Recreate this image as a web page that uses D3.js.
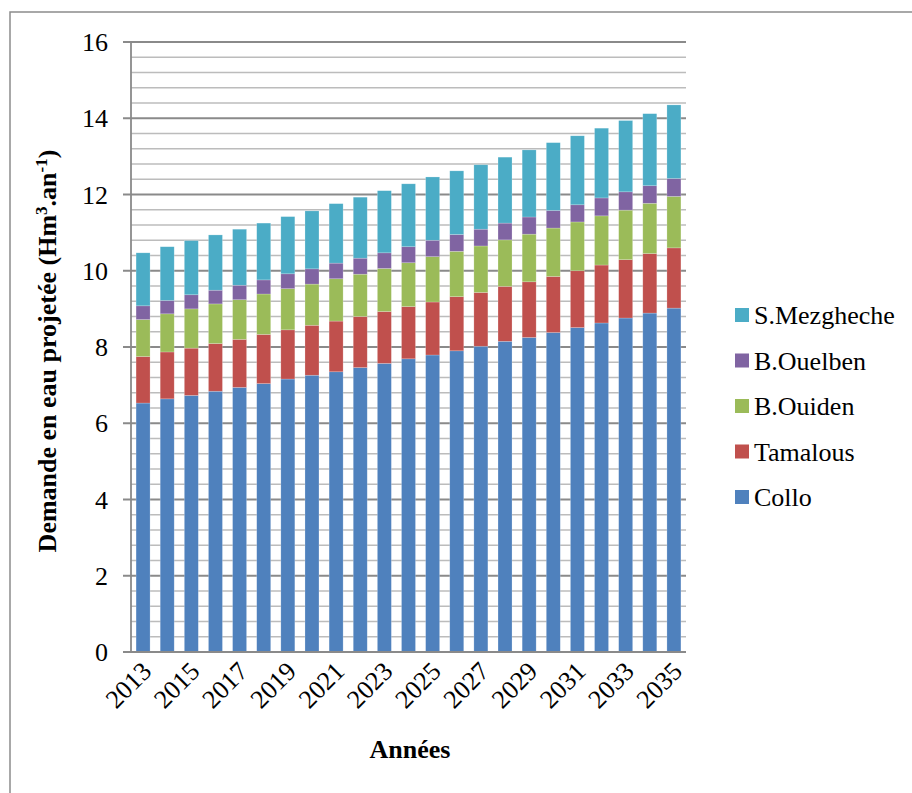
<!DOCTYPE html>
<html><head><meta charset="utf-8">
<script src="https://cdn.jsdelivr.net/npm/d3@7"></script>
<style>body{margin:0;background:#fff}svg{display:block}text{font-family:"Liberation Serif","Tinos","Noto Serif","DejaVu Serif",serif}</style>
</head><body>
<svg id="c" width="912" height="793"></svg>
<script>
const years = d3.range(2013, 2036).map(String);
const collo      = [6.53,6.64,6.73,6.84,6.94,7.04,7.16,7.26,7.35,7.46,7.57,7.69,7.79,7.90,8.02,8.15,8.25,8.38,8.51,8.63,8.76,8.89,9.02];
const tamalous   = [1.22,1.23,1.24,1.25,1.26,1.29,1.29,1.31,1.33,1.34,1.36,1.37,1.39,1.42,1.41,1.44,1.46,1.47,1.49,1.52,1.53,1.56,1.58];
const bOuiden    = [0.97,1.00,1.03,1.04,1.04,1.06,1.08,1.08,1.11,1.11,1.13,1.15,1.19,1.19,1.22,1.22,1.25,1.27,1.28,1.29,1.30,1.32,1.35];
const bOuelben   = [0.36,0.35,0.37,0.36,0.38,0.37,0.39,0.40,0.41,0.42,0.41,0.42,0.43,0.44,0.44,0.44,0.45,0.46,0.45,0.47,0.48,0.46,0.47];
const sMezgheche = [1.39,1.41,1.42,1.45,1.47,1.49,1.50,1.52,1.56,1.60,1.63,1.65,1.66,1.67,1.69,1.73,1.76,1.78,1.81,1.83,1.87,1.89,1.93];
const seriesNames = ["Collo","Tamalous","B.Ouiden","B.Ouelben","S.Mezgheche"];
const seriesColors = ["#4F81BD","#C0504D","#9BBB59","#8064A2","#4BACC6"];
const yTicks = [0,2,4,6,8,10,12,14,16];
const xTickLabels = years.filter((d,i)=>i%2===0);

const table = years.map((y,i)=>({year:y, "Collo":collo[i], "Tamalous":tamalous[i], "B.Ouiden":bOuiden[i], "B.Ouelben":bOuelben[i], "S.Mezgheche":sMezgheche[i]}));
const stack = d3.stack().keys(seriesNames)(table);

const svg = d3.select("#c");
const L = 131, R = 686, T = 42, B = 652;
const x = d3.scaleBand().domain(years).range([L,R]).paddingInner(0.42).paddingOuter(0.21);
const y = d3.scaleLinear().domain([0,16]).range([B,T]);
const color = d3.scaleOrdinal().domain(seriesNames).range(seriesColors);

svg.append("rect").attr("x",10).attr("y",12).attr("width",960).attr("height",900)
  .attr("fill","none").attr("stroke","#8c8c8c").attr("stroke-width",1.5);

const minor = d3.range(0,16.001,0.4).filter(v=>Math.abs(v/2-Math.round(v/2))>1e-6);
svg.append("g").selectAll("line").data(minor).join("line")
  .attr("x1",L).attr("x2",R).attr("y1",d=>y(d)).attr("y2",d=>y(d))
  .attr("stroke","#bcbcbc").attr("stroke-width",1.6);
svg.append("g").selectAll("line").data(yTicks).join("line")
  .attr("x1",L-8).attr("x2",R).attr("y1",d=>y(d)).attr("y2",d=>y(d))
  .attr("stroke","#8a8a8a").attr("stroke-width",1.8);

svg.append("g").selectAll("g").data(stack).join("g").attr("fill",d=>color(d.key))
  .selectAll("rect").data(d=>d).join("rect")
  .attr("x",d=>x(d.data.year)).attr("width",x.bandwidth())
  .attr("y",d=>y(d[1])).attr("height",d=>y(d[0])-y(d[1]))
  .attr("stroke","rgba(255,255,255,0.35)").attr("stroke-width",0.6);

svg.append("line").attr("x1",L).attr("x2",L).attr("y1",T).attr("y2",B)
  .attr("stroke","#8a8a8a").attr("stroke-width",1.8);
svg.append("line").attr("x1",L-8).attr("x2",R).attr("y1",B).attr("y2",B)
  .attr("stroke","#8a8a8a").attr("stroke-width",1.8);

svg.append("g").selectAll("text").data(yTicks).join("text")
  .attr("x",108).attr("y",d=>y(d)).attr("dy","0.35em").attr("text-anchor","end")
  .attr("font-size",26).text(d=>d);

svg.append("g").selectAll("text").data(xTickLabels).join("text")
  .attr("transform",d=>`translate(${x(d)+x.bandwidth()/2-3},${B+8}) rotate(-45)`)
  .attr("text-anchor","end").attr("dy","0.7em")
  .attr("font-size",26).text(d=>d);

const yt = svg.append("text").attr("transform","translate(56,351) rotate(-90)")
  .attr("text-anchor","middle").attr("font-weight","bold").attr("font-size",26);
yt.append("tspan").text("Demande en eau projetée (Hm");
yt.append("tspan").attr("font-size",17).attr("dy",-9).text("3");
yt.append("tspan").attr("dy",9).text(".an");
yt.append("tspan").attr("font-size",17).attr("dy",-9).text("-1");
yt.append("tspan").attr("dy",9).text(")");

svg.append("text").attr("x",410).attr("y",758).attr("text-anchor","middle")
  .attr("font-weight","bold").attr("font-size",26).text("Années");

const legendOrder = seriesNames.slice().reverse();
const lg = svg.append("g").selectAll("g").data(legendOrder).join("g")
  .attr("transform",(d,i)=>`translate(735,${315+i*45.5})`);
lg.append("rect").attr("x",0).attr("y",-7).attr("width",14).attr("height",14).attr("fill",d=>color(d));
lg.append("text").attr("x",19).attr("y",0).attr("dy","0.35em")
  .attr("font-size",26).text(d=>d);
</script>
</body></html>
